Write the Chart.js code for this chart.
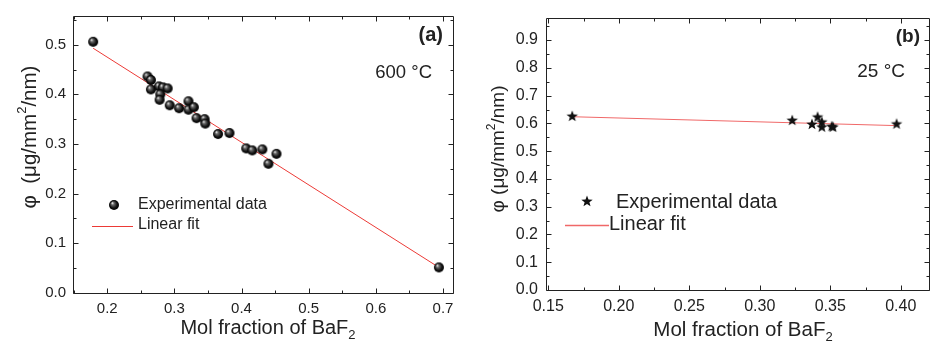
<!DOCTYPE html>
<html><head><meta charset="utf-8">
<script src="https://cdn.jsdelivr.net/npm/chart.js@4/dist/chart.umd.min.js"></script>
<style>
html,body{margin:0;padding:0;background:#fff;overflow:hidden;width:933px;height:347px;position:relative}
#ca{position:absolute;left:0;top:0}
#cb{position:absolute;left:466px;top:0}
</style></head><body>
<canvas id="ca" width="466" height="347"></canvas>
<canvas id="cb" width="470" height="347"></canvas>
<script>
// ---- Panel (a): 600 °C ----
const xA = [0.179,0.260,0.265,0.265,0.277,0.283,0.290,0.279,0.278,0.293,0.307,0.321,0.321,0.329,0.333,0.345,0.346,0.365,0.382,0.407,0.416,0.431,0.452,0.440,0.694];
const yA = [0.506,0.436,0.429,0.410,0.416,0.414,0.412,0.400,0.389,0.378,0.372,0.386,0.369,0.374,0.352,0.350,0.341,0.320,0.322,0.291,0.287,0.289,0.280,0.260,0.051];
const fitXA = [0.179,0.694];
const fitYA = [0.493,0.051];
const xTicksA = [0.2,0.3,0.4,0.5,0.6,0.7];
const yTicksA = [0.0,0.1,0.2,0.3,0.4,0.5];
// ---- Panel (b): 25 °C ----
const xB = [0.167,0.323,0.337,0.341,0.344,0.344,0.351,0.352,0.397];
const yB = [0.627,0.612,0.598,0.624,0.606,0.588,0.590,0.588,0.599];
const fitXB = [0.167,0.397];
const fitYB = [0.624,0.592];
const xTicksB = [0.15,0.20,0.25,0.30,0.35,0.40];
const yTicksB = [0.0,0.1,0.2,0.3,0.4,0.5,0.6,0.7,0.8,0.9];

const FAM = "'Liberation Sans', Arial, sans-serif";
const TXT = '#222';

function ballImage(r){
  const c=document.createElement('canvas'); const s=2*r+2; c.width=s; c.height=s;
  const g=c.getContext('2d'); const cx=s/2, cy=s/2;
  const grd=g.createRadialGradient(cx-r*0.35,cy-r*0.4,0.3,cx,cy,r);
  grd.addColorStop(0,'#e8e8e8'); grd.addColorStop(0.25,'#6a6a6a'); grd.addColorStop(0.7,'#111'); grd.addColorStop(1,'#000');
  g.fillStyle=grd; g.beginPath(); g.arc(cx,cy,r,0,Math.PI*2); g.fill();
  return c;
}
function starImage(R){
  const c=document.createElement('canvas'); const s=2*R+2; c.width=s; c.height=s;
  const g=c.getContext('2d'); const cx=s/2, cy=s/2+0.5; const ri=R*0.42;
  g.fillStyle='#111'; g.beginPath();
  for(let i=0;i<10;i++){const rr=i%2?ri:R; const a=-Math.PI/2+i*Math.PI/5; const px=cx+rr*Math.cos(a), py=cy+rr*Math.sin(a); if(i)g.lineTo(px,py); else g.moveTo(px,py);}
  g.closePath(); g.fill(); return c;
}
const ball = ballImage(5);
const star = starImage(6);

function drawRich(ctx, parts, x, y, align){
  let w=0; parts.forEach(p=>{ctx.font=(p.bold?'bold ':'')+p.size+'px '+FAM; p.w=ctx.measureText(p.t).width; w+=p.w;});
  let cx = align==='center'? x-w/2 : (align==='right'? x-w : x);
  ctx.textBaseline='middle'; ctx.textAlign='left';
  parts.forEach(p=>{ctx.font=(p.bold?'bold ':'')+p.size+'px '+FAM; ctx.fillText(p.t,cx,y+(p.dy||0)); cx+=p.w;});
}

function framePlugin(cfg){
  return {id:'frame', afterDraw(chart){
    const ctx=chart.ctx, a=chart.chartArea, xs=chart.scales.x, ys=chart.scales.y;
    ctx.save(); ctx.strokeStyle='#222'; ctx.lineWidth=1;
    const L=Math.round(a.left)+0.5, T=Math.round(a.top)+0.5, R=Math.round(a.right)+0.5, B=Math.round(a.bottom)+0.5;
    const line=(x1,y1,x2,y2)=>{ctx.beginPath();ctx.moveTo(x1,y1);ctx.lineTo(x2,y2);ctx.stroke();};
    line(L,T,R,T); line(L,B,R,B); line(L,T,L,B); line(R,T,R,B);
    const mids=(arr,min,max)=>{const out=[];const st=arr[1]-arr[0];
      const cand=[arr[0]-st/2]; for(let i=0;i<arr.length-1;i++)cand.push((arr[i]+arr[i+1])/2); cand.push(arr[arr.length-1]+st/2);
      cand.forEach(v=>{if(v>min+1e-6&&v<max-1e-6)out.push(v);}); return out;};
    const M=5, m=3;
    cfg.xTicks.forEach(v=>{const p=Math.round(xs.getPixelForValue(v))+0.5; line(p,B,p,B-M); line(p,T,p,T+M);});
    mids(cfg.xTicks,xs.min,xs.max).forEach(v=>{const p=Math.round(xs.getPixelForValue(v))+0.5; line(p,B,p,B-m); line(p,T,p,T+m);});
    cfg.yTicks.forEach(v=>{const p=Math.round(ys.getPixelForValue(v))+0.5; line(L,p,L+M,p); line(R,p,R-M,p);});
    mids(cfg.yTicks,ys.min,ys.max).forEach(v=>{const p=Math.round(ys.getPixelForValue(v))+0.5; line(L,p,L+m,p); line(R,p,R-m,p);});
    ctx.fillStyle=TXT; ctx.strokeStyle=TXT;
    cfg.text(ctx, chart);
    ctx.restore();
  }};
}

function makeChart(id, cfg){
  return new Chart(document.getElementById(id), {
    type:'scatter',
    data:{datasets:[
      {label:'Experimental data', data:cfg.xs.map((x,i)=>({x:x,y:cfg.ys[i]})), pointStyle:cfg.marker, pointRadius:6, order:0},
      {label:'Linear fit', data:cfg.fx.map((x,i)=>({x:x,y:cfg.fy[i]})), showLine:true, borderColor:cfg.lineColor, borderWidth:1, pointRadius:0, order:1}
    ]},
    options:{
      responsive:false, animation:false, devicePixelRatio:1,
      layout:{padding:{left:0,top:cfg.top,right:cfg.right,bottom:0}},
      plugins:{legend:{display:false}, tooltip:{enabled:false}},
      scales:{
        x:{type:'linear', min:cfg.xmin, max:cfg.xmax,
           grid:{display:false, drawTicks:false}, border:{display:false},
           ticks:{font:{family:FAM,size:cfg.tickSize}, color:TXT, padding:7, maxRotation:0, autoSkip:false, callback:v=>v.toFixed(cfg.xDec)},
           afterBuildTicks:s=>{s.ticks=cfg.xTicks.map(v=>({value:v}));},
           afterFit:s=>{s.height=cfg.xh;}},
        y:{type:'linear', min:cfg.ymin, max:cfg.ymax,
           grid:{display:false, drawTicks:false}, border:{display:false},
           ticks:{font:{family:FAM,size:cfg.tickSize}, color:TXT, padding:cfg.ypad, autoSkip:false, callback:v=>v.toFixed(1)},
           afterBuildTicks:s=>{s.ticks=cfg.yTicks.map(v=>({value:v}));},
           afterFit:s=>{s.width=cfg.yw;}}
      }
    },
    plugins:[framePlugin(cfg)]
  });
}

makeChart('ca', {
  xs:xA, ys:yA, fx:fitXA, fy:fitYA, marker:ball, lineColor:'#ec3a36',
  xmin:0.149, xmax:0.7145, ymin:0, ymax:0.558, xTicks:xTicksA, yTicks:yTicksA, xDec:1,
  top:10, right:13.3, xh:54.3, yw:73, ypad:7, tickSize:15,
  text:(ctx)=>{
    drawRich(ctx,[{t:'(a)',size:20,bold:true}],443,35,'right');
    drawRich(ctx,[{t:'600 °C',size:18.5}],432,73,'right');
    ctx.drawImage(ball,114-6,205-6);
    drawRich(ctx,[{t:'Experimental data',size:16}],138,205,'left');
    ctx.save(); ctx.strokeStyle='#ec3a36'; ctx.lineWidth=1; ctx.beginPath(); ctx.moveTo(92,226.5); ctx.lineTo(133,226.5); ctx.stroke(); ctx.restore();
    drawRich(ctx,[{t:'Linear fit',size:16}],138,225,'left');
    drawRich(ctx,[{t:'Mol fraction of BaF',size:20},{t:'2',size:13,dy:7}],268,328,'center');
    ctx.save(); ctx.translate(30,137); ctx.rotate(-Math.PI/2);
    drawRich(ctx,[{t:'φ  (μg/mm',size:20.5},{t:'2',size:13,dy:-8},{t:'/nm)',size:20.5}],0,0,'center');
    ctx.restore();
  }
});

makeChart('cb', {
  xs:xB, ys:yB, fx:fitXB, fy:fitYB, marker:star, lineColor:'#f06868',
  xmin:0.1484, xmax:0.42, ymin:0, ymax:0.981, xTicks:xTicksB, yTicks:yTicksB, xDec:2,
  top:15, right:1.6, xh:57, yw:80, ypad:8, tickSize:16,
  text:(ctx)=>{
    drawRich(ctx,[{t:'(b)',size:19,bold:true}],454,37,'right');
    drawRich(ctx,[{t:'25 °C',size:19}],439,72,'right');
    ctx.drawImage(star,121-7,201-7);
    drawRich(ctx,[{t:'Experimental data',size:20}],150,202,'left');
    ctx.save(); ctx.strokeStyle='#f06868'; ctx.lineWidth=1.5; ctx.beginPath(); ctx.moveTo(99,225.5); ctx.lineTo(143,225.5); ctx.stroke(); ctx.restore();
    drawRich(ctx,[{t:'Linear fit',size:20}],143,224,'left');
    drawRich(ctx,[{t:'Mol fraction of BaF',size:20.5},{t:'2',size:13,dy:7}],277,330,'center');
    ctx.save(); ctx.translate(33,149); ctx.rotate(-Math.PI/2);
    drawRich(ctx,[{t:'φ (μg/mm',size:19},{t:'2',size:12,dy:-7},{t:'/nm)',size:19}],0,0,'center');
    ctx.restore();
  }
});
</script>
</body></html>
